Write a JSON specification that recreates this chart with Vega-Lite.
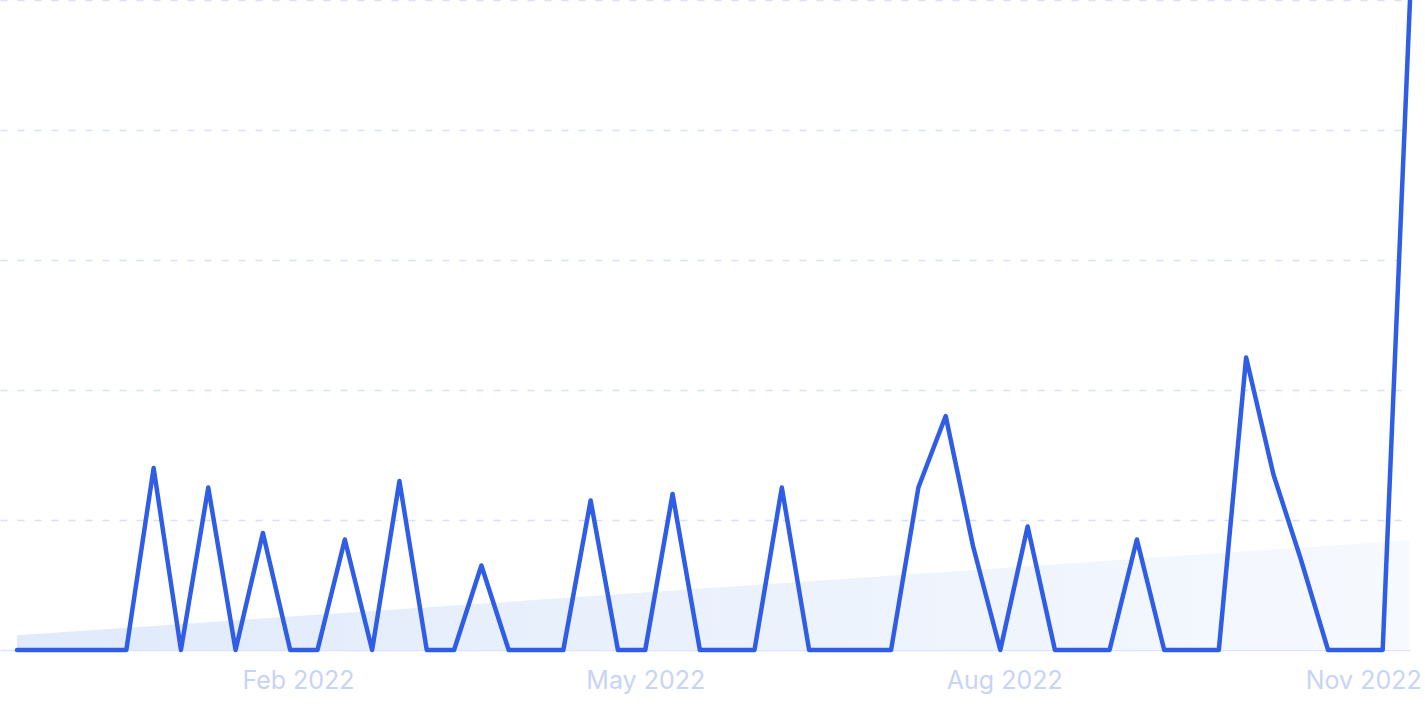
{
  "$schema": "https://vega.github.io/schema/vega-lite/v6.json",
  "width": 1410,
  "height": 650,
  "padding": {"left": 0, "top": 0, "right": 15, "bottom": 62},
  "autosize": {"type": "none"},
  "background": "white",
  "config": {"view": {"stroke": null}},
  "data": {"values": [
    {"date": "2021-11-21", "value": 0},
    {"date": "2021-11-28", "value": 0},
    {"date": "2021-12-05", "value": 0},
    {"date": "2021-12-12", "value": 0},
    {"date": "2021-12-19", "value": 0},
    {"date": "2021-12-26", "value": 28},
    {"date": "2022-01-02", "value": 0},
    {"date": "2022-01-09", "value": 25},
    {"date": "2022-01-16", "value": 0},
    {"date": "2022-01-23", "value": 18},
    {"date": "2022-01-30", "value": 0},
    {"date": "2022-02-06", "value": 0},
    {"date": "2022-02-13", "value": 17},
    {"date": "2022-02-20", "value": 0},
    {"date": "2022-02-27", "value": 26},
    {"date": "2022-03-06", "value": 0},
    {"date": "2022-03-13", "value": 0},
    {"date": "2022-03-20", "value": 13},
    {"date": "2022-03-27", "value": 0},
    {"date": "2022-04-03", "value": 0},
    {"date": "2022-04-10", "value": 0},
    {"date": "2022-04-17", "value": 23},
    {"date": "2022-04-24", "value": 0},
    {"date": "2022-05-01", "value": 0},
    {"date": "2022-05-08", "value": 24},
    {"date": "2022-05-15", "value": 0},
    {"date": "2022-05-22", "value": 0},
    {"date": "2022-05-29", "value": 0},
    {"date": "2022-06-05", "value": 25},
    {"date": "2022-06-12", "value": 0},
    {"date": "2022-06-19", "value": 0},
    {"date": "2022-06-26", "value": 0},
    {"date": "2022-07-03", "value": 0},
    {"date": "2022-07-10", "value": 25},
    {"date": "2022-07-17", "value": 36},
    {"date": "2022-07-24", "value": 16},
    {"date": "2022-07-31", "value": 0},
    {"date": "2022-08-07", "value": 19},
    {"date": "2022-08-14", "value": 0},
    {"date": "2022-08-21", "value": 0},
    {"date": "2022-08-28", "value": 0},
    {"date": "2022-09-04", "value": 17},
    {"date": "2022-09-11", "value": 0},
    {"date": "2022-09-18", "value": 0},
    {"date": "2022-09-25", "value": 0},
    {"date": "2022-10-02", "value": 45},
    {"date": "2022-10-09", "value": 27},
    {"date": "2022-10-16", "value": 14},
    {"date": "2022-10-23", "value": 0},
    {"date": "2022-10-30", "value": 0},
    {"date": "2022-11-06", "value": 0},
    {"date": "2022-11-13", "value": 100}
  ]},
  "encoding": {
    "x": {
      "field": "date",
      "type": "temporal",
      "scale": {"domain": [{"year": 2021, "month": 11, "date": 16, "hours": 15}, {"year": 2022, "month": 11, "date": 13}], "nice": false},
      "axis": {
        "title": null,
        "values": [{"year": 2022, "month": 2, "date": 1}, {"year": 2022, "month": 5, "date": 1}, {"year": 2022, "month": 8, "date": 1}, {"year": 2022, "month": 11, "date": 1}],
        "format": "%b %Y",
        "grid": false,
        "ticks": false,
        "domain": true,
        "domainColor": "#dce4fb",
        "domainWidth": 1.5,
        "labelColor": "#c9d3f4",
        "labelFont": "Inter",
        "labelFontSize": 25,
        "labelPadding": 18,
        "labelFlush": false
      }
    }
  },
  "layer": [
    {
      "transform": [{"regression": "value", "on": "date"}],
      "mark": {
        "type": "area",
        "fill": {
          "x1": 0, "y1": 0.5, "x2": 1, "y2": 0.5,
          "gradient": "linear",
          "stops": [{"offset": 0, "color": "#e0eafb"}, {"offset": 1, "color": "#f6f9fe"}]
        }
      },
      "encoding": {
        "y": {"field": "value", "type": "quantitative"}
      }
    },
    {
      "mark": {"type": "line", "color": "#2f5de6", "strokeWidth": 4.5, "strokeJoin": "round", "strokeCap": "round"},
      "encoding": {
        "y": {
          "field": "value",
          "type": "quantitative",
          "scale": {"domain": [0, 100], "nice": false},
          "axis": {
            "title": null,
            "values": [20, 40, 60, 80, 100],
            "labels": false,
            "ticks": false,
            "domain": false,
            "grid": true,
            "gridColor": "#d8e0fb",
            "gridDash": [7, 10],
            "gridWidth": 1.5
          }
        }
      }
    }
  ]
}
